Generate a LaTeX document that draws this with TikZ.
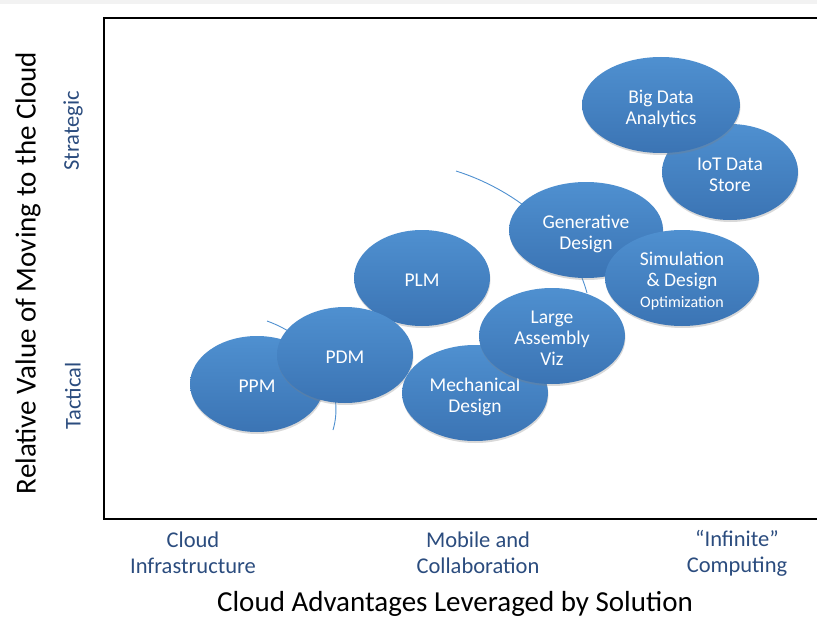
\documentclass[tikz,border=0pt]{standalone}
\usepackage{fontspec}
\setmainfont{Carlito}
\usetikzlibrary{shapes.geometric,shadows}
\definecolor{bubbletop}{HTML}{4F90D0}
\definecolor{bubblebot}{HTML}{3B74B4}
\definecolor{labelblue}{HTML}{2B4C7E}
\newcommand{\btext}[1]{\raisebox{-4.5pt}[\height][\depth]{\begin{tabular}{@{}c@{}}#1\end{tabular}}}
\begin{document}
\begin{tikzpicture}[x = 1pt, y = -1pt,
    bubble/.style = {ellipse, inner sep = 0pt, minimum height = 96pt,
      top color = bubbletop, bottom color = bubblebot, draw = none,
      text = white, font = \fontsize{19.5}{21}\selectfont,
      drop shadow = {shadow xshift = 0.5pt, shadow yshift = -2pt, opacity = 0.3}},
    swirl/.style = {draw = bubbletop, line width = 0.9pt},
    catlabel/.style = {text = labelblue, font = \fontsize{22.5}{26}\selectfont, align = center},
    axlabel/.style = {font = \fontsize{29}{32}\selectfont}]
        \useasboundingbox (0, 0) rectangle (817, 618);
        \fill[black!5](0, 0) rectangle (817, 4);
        \draw[line width = 2pt](817, 18) -- (104, 18) -- (104, 519) -- (817, 519);
        % arcs behind the bubbles
        \coordinate (s1a) at (267, 321);
        \coordinate (s1b) at (333, 430);
        \coordinate (s2a) at (456, 171);
        \coordinate (s2b) at (587, 293);
        \draw[swirl] (s1a) .. controls (320, 340) and (345, 390) .. (s1b);
        \draw[swirl] (s2a) .. controls (510, 188) and (570, 230) .. (s2b);
        % bubbles
        \node[bubble, minimum width = 136pt] (plm) at (422, 278) {\btext{PLM}};
        \node[bubble, minimum width = 134pt] (ppm) at (257, 384) {\btext{PPM}};
        \node[bubble, minimum width = 136pt] (pdm) at (345, 355) {\btext{PDM}};
        \node[bubble, minimum width = 146pt] (mech) at (475, 393) {\btext{Mechanical\\Design}};
        \node[bubble, minimum width = 154pt] (gen) at (586, 230) {\btext{Generative\\Design}};
        \node[bubble, minimum width = 146pt] (lav) at (552, 336) {\btext{Large\\Assembly\\Viz}};
        \node[bubble, minimum width = 154pt] (sim) at (682, 278) {\btext{Simulation\\\& Design\\{\fontsize{16}{19}\selectfont Optimization}}};
        \node[bubble, minimum width = 136pt] (iot) at (730, 172) {\btext{IoT Data\\Store}};
        \node[bubble, minimum width = 158pt] (bda) at (661, 105) {\btext{Big Data\\Analytics}};
        % axis texts
        \node[catlabel] (cinf) at (193, 553) {Cloud\\Infrastructure};
        \node[catlabel] (mob) at (478, 553) {Mobile and\\Collaboration};
        \node[catlabel] (inf) at (737, 553) {“Infinite”\\Computing};
        \node[catlabel, rotate = 90] (strat) at (73, 131) {Strategic};
        \node[catlabel, rotate = 90] (tact) at (73, 396) {Tactical};
        \node[axlabel] (xlab) at (455, 604) {Cloud Advantages Leveraged by Solution};
        \node[axlabel, rotate = 90] (ylab) at (28, 273) {Relative Value of Moving to the Cloud};
      \end{tikzpicture}
\end{document}
